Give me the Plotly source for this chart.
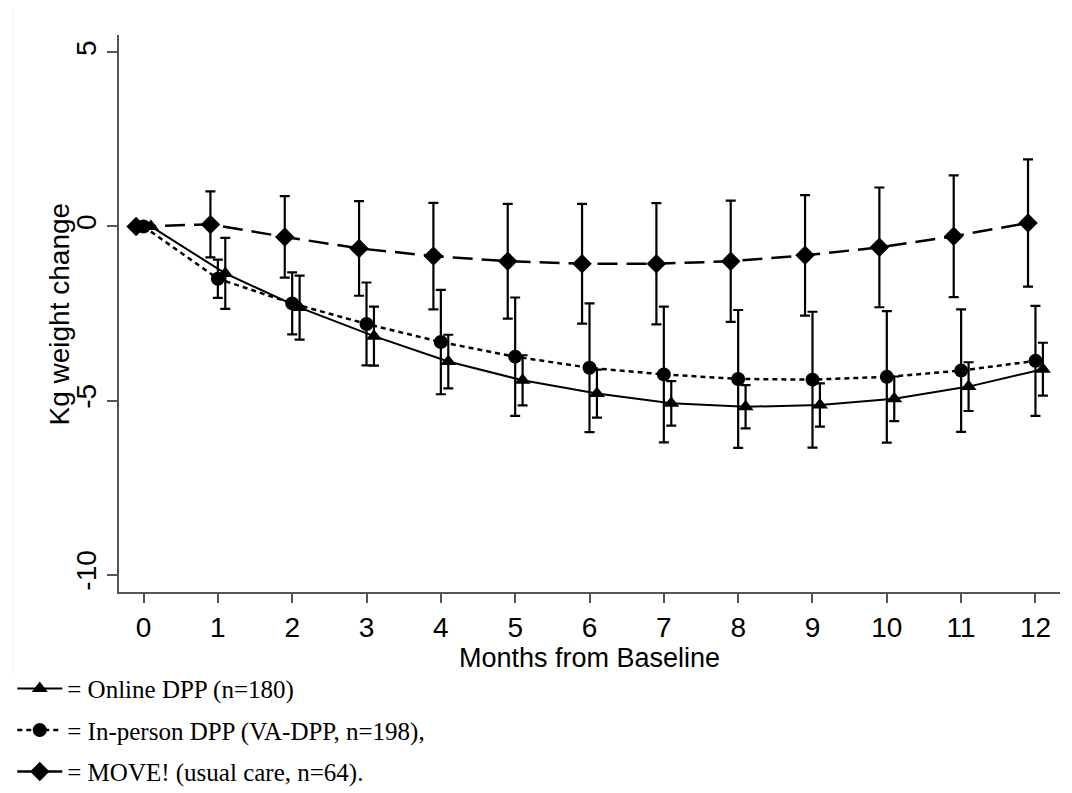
import plotly.graph_objects as go

# ---- data ----
months = [0, 1, 2, 3, 4, 5, 6, 7, 8, 9, 10, 11, 12]
month_labels = ["0", "1", "2", "3", "4", "5", "6", "7", "8", "9", "10", "11", "12"]

online_mean = [0, -1.35, -2.33, -3.15, -3.88, -4.42, -4.80, -5.08, -5.18, -5.13, -4.95, -4.60, -4.10]
online_ci = [None, 1.02, 0.92, 0.85, 0.77, 0.72, 0.69, 0.64, 0.62, 0.62, 0.64, 0.70, 0.76]

inperson_mean = [0, -1.50, -2.21, -2.80, -3.32, -3.74, -4.06, -4.25, -4.38, -4.40, -4.32, -4.14, -3.86]
inperson_ci = [None, 0.55, 0.89, 1.19, 1.50, 1.70, 1.85, 1.95, 1.98, 1.95, 1.89, 1.76, 1.58]

move_mean = [0, 0.06, -0.30, -0.63, -0.85, -1.00, -1.07, -1.07, -1.00, -0.83, -0.60, -0.28, 0.10]
move_ci = [None, 0.95, 1.17, 1.36, 1.53, 1.65, 1.72, 1.74, 1.74, 1.73, 1.72, 1.75, 1.83]

y_ticks = [5, 0, -5, -10]
y_grid = [0, -5]

x_title = "Months from Baseline"
y_title = "Kg weight change"
names = ["= Online DPP (n=180)",
         "= In-person DPP (VA-DPP, n=198),",
         "= MOVE! (usual care, n=64)."]

# ---- style ----
offsets = {"online": 0.1, "inperson": 0.0, "move": -0.1}
SANS = "Arial, Liberation Sans, Helvetica, sans-serif"
SERIF = "Times New Roman, Liberation Serif, serif"
AXIS_COLOR = "#555555"
FS = 28

def shifted(xs, d):
    return [x + d for x in xs]

fig = go.Figure()

def add_series(xs, ys, errs, name, symbol, msize, dash, lw, group):
    fig.add_trace(go.Scatter(
        x=xs, y=ys, name=name, mode="lines+markers",
        legendgroup=group,
        line=dict(color="black", width=lw, dash=dash),
        marker=dict(symbol=symbol, size=msize, color="black"),
        error_y=dict(type="data", array=errs, visible=True,
                     color="black", thickness=2.2, width=5),
    ))

add_series(shifted(months, offsets["online"]), online_mean, online_ci,
           names[0], "triangle-up", 14, "solid", 2, "g1")
add_series(shifted(months, offsets["inperson"]), inperson_mean, inperson_ci,
           names[1], "circle", 14, "5px,4px", 2.5, "g2")
add_series(shifted(months, offsets["move"]), move_mean, move_ci,
           names[2], "diamond", 15, "20px,9px", 2.5, "g3")

# the page adds an 8px body margin, so the figure is 8px smaller
fig.update_layout(
    width=1064, height=785,
    paper_bgcolor="white", plot_bgcolor="white",
    margin=dict(l=111, r=12, t=27, b=201, autoexpand=False),
    font=dict(family=SANS, size=FS, color="black"),
    showlegend=True,
    legend=dict(
        xref="container", yref="container",
        x=0.004, y=0.162, xanchor="left", yanchor="top",
        font=dict(family=SERIF, size=25, color="black"),
        bgcolor="rgba(0,0,0,0)", borderwidth=0,
        tracegroupgap=6, itemwidth=45,
    ),
    xaxis=dict(
        range=[-0.33, 12.33], automargin=False,
        tickmode="array", tickvals=months, ticktext=month_labels,
        showline=True, linecolor=AXIS_COLOR, linewidth=2,
        ticks="outside", ticklen=9, tickwidth=1.5, tickcolor=AXIS_COLOR,
        showgrid=False, zeroline=False,
        tickfont=dict(family=SANS, size=FS),
    ),
    yaxis=dict(
        range=[-10.5, 5.5], automargin=False,
        tickmode="array", tickvals=y_ticks, ticktext=[str(v) for v in y_ticks],
        tickangle=-90,
        showline=True, linecolor=AXIS_COLOR, linewidth=2,
        ticks="outside", ticklen=10, tickwidth=1.5, tickcolor=AXIS_COLOR,
        showgrid=False, zeroline=False,
        tickfont=dict(family=SANS, size=FS),
    ),
    yaxis2=dict(
        overlaying="y", anchor="x", range=[-10.5, 5.5], automargin=False,
        tickmode="array", tickvals=y_grid,
        showgrid=True, gridcolor="#e0ebed", gridwidth=2,
        showticklabels=False, ticks="", showline=False, zeroline=False,
    ),
    annotations=[
        dict(text=x_title, xref="paper", yref="paper", x=0.5, y=-0.118,
             xanchor="center", yanchor="middle", showarrow=False,
             font=dict(family=SANS, size=27, color="black")),
        dict(text=y_title, xref="paper", yref="paper", x=-0.0627, y=0.5,
             xanchor="center", yanchor="middle", showarrow=False, textangle=-90,
             font=dict(family=SANS, size=FS, color="black")),
    ],
    shapes=[
        dict(type="line", xref="paper", yref="paper",
             x0=-0.1126, x1=-0.1126, y0=1.048, y1=-0.145,
             line=dict(color="#eeeeee", width=1)),
    ],
)

fig.write_html("out.html")
